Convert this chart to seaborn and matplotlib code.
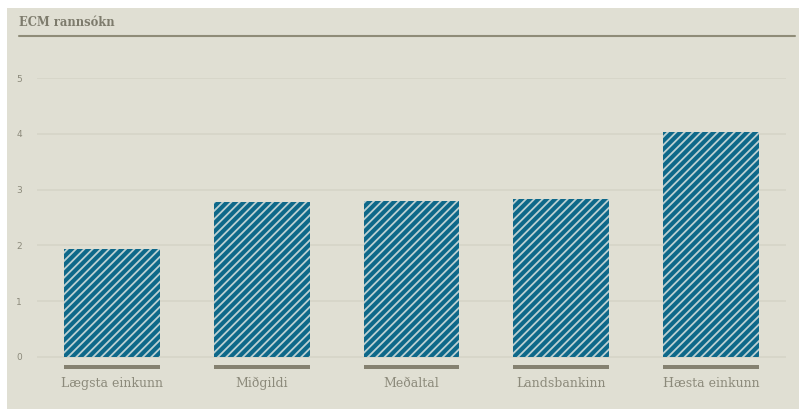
import matplotlib
matplotlib.use('Agg')
import matplotlib.pyplot as plt
import seaborn as sns
import pandas as pd
from matplotlib.lines import Line2D
from matplotlib.patches import Rectangle

# Gögn
flokkar = ['Lægsta einkunn', 'Miðgildi', 'Meðaltal', 'Landsbankinn', 'Hæsta einkunn']
gildi = [1.94, 2.77, 2.80, 2.83, 4.03]
y_merki = [0, 1, 2, 3, 4, 5]

bakgrunnur = '#e0dfd3'
blar = '#0e6889'
grar = '#858170'
texti = '#8c8a7b'

sns.set_theme(style='white')
plt.rcParams['font.family'] = ['DejaVu Serif', 'DejaVu Sans']
plt.rcParams['hatch.linewidth'] = 1.3

W, H = 799, 409
fig = plt.figure(figsize=(W / 100, H / 100), dpi=100, facecolor='white')
fig.add_artist(Rectangle((7 / W, 0), 1, (H - 8) / H, transform=fig.transFigure,
                         facecolor=bakgrunnur, edgecolor='none', zorder=-10))

# ás: y=0 á 357px, y=5 á 78px
unit = (357 - 78) / 5
ymin = -0.3
bottom_px = 357 + (-ymin) * unit
ax = fig.add_axes([37 / W, (H - bottom_px) / H, (786 - 37) / W, (bottom_px - 78) / H])
ax.set_facecolor('none')

df = pd.DataFrame({'flokkur': flokkar, 'gildi': gildi})
sns.barplot(data=df, x='flokkur', y='gildi', ax=ax, color=blar, width=0.64,
            edgecolor='#bcd0d2', linewidth=0, hatch='////', saturation=1, zorder=3)

# grá strik undir súlunum
ax.bar(range(len(flokkar)), [0.065] * len(flokkar), bottom=-0.215, width=0.64,
       color=grar, linewidth=0, zorder=3)

ax.set_xlim(-0.5, 4.5)
ax.set_ylim(ymin, 5)
ax.set_yticks(y_merki)
ax.set_yticklabels([str(v) for v in y_merki], family='DejaVu Sans', fontsize=6.5, color=texti)
ax.yaxis.grid(True, color='#d5d4c7', linewidth=1.1, zorder=0)
ax.tick_params(axis='y', length=0, pad=11)
ax.tick_params(axis='x', length=0, pad=2, labelsize=9, labelcolor=texti)
ax.set_xlabel('')
ax.set_ylabel('')
for s in ax.spines.values():
    s.set_visible(False)

# titill og lína
fig.text(19 / W, 1 - 22 / H, 'ECM rannsókn', fontsize=8.3, fontweight='bold',
         color='#7d7b6c', va='center', ha='left')
fig.add_artist(Line2D([19 / W, 795 / W], [1 - 35.5 / H, 1 - 35.5 / H],
                      transform=fig.transFigure, color='#8f8c78', linewidth=1.5))

fig.savefig('out.png', dpi=100, facecolor=fig.get_facecolor())
